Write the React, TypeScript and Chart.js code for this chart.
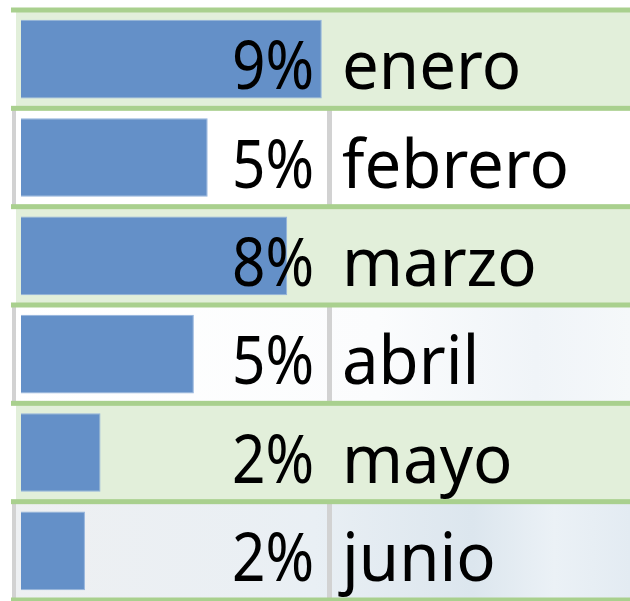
import React, { useEffect, useRef } from "react";
import { Chart, registerables } from "chart.js";

Chart.register(...registerables);

const months: string[] = ["enero", "febrero", "marzo", "abril", "mayo", "junio"];
const shares: number[] = [8.7, 5.4, 7.7, 5.0, 2.3, 1.85];
const axisMax = 17.5;

const FONT = '"Noto Sans", "Open Sans", sans-serif';

const tablePlugin = {
  id: "tableDecor",
  beforeDatasetsDraw(chart: any) {
    const ctx = chart.ctx as CanvasRenderingContext2D;
    const y = chart.scales.y;
    const W = chart.width;
    const step = y.getPixelForValue(1) - y.getPixelForValue(0);
    ctx.save();
    months.forEach((_, i) => {
      const top = y.getPixelForValue(i) - step / 2;
      if (i % 2 === 0) {
        ctx.fillStyle = "#e2efda";
        ctx.fillRect(16, top, W - 16, step);
      } else {
        if (i >= 3) {
          const g = ctx.createLinearGradient(0, 0, W, 0);
          if (i === 5) {
            g.addColorStop(0, "#eef0f2");
            g.addColorStop(0.5, "#e9eff4");
            g.addColorStop(0.75, "#dce6ee");
            g.addColorStop(0.88, "#ebf1f6");
            g.addColorStop(1, "#e3ebf2");
          } else {
            g.addColorStop(0, "#ffffff");
            g.addColorStop(0.6, "#fbfcfd");
            g.addColorStop(0.85, "#f0f4f8");
            g.addColorStop(1, "#f5f8fa");
          }
          ctx.fillStyle = g;
          ctx.fillRect(16, top, W - 16, step);
        }
        ctx.fillStyle = "#d2d2d2";
        ctx.fillRect(12, top, 4, step);
        ctx.fillRect(327, top, 5, step);
      }
    });
    ctx.restore();
  },
  afterDatasetsDraw(chart: any) {
    const ctx = chart.ctx as CanvasRenderingContext2D;
    const y = chart.scales.y;
    const W = chart.width;
    const step = y.getPixelForValue(1) - y.getPixelForValue(0);
    ctx.save();
    ctx.fillStyle = "#a9d08e";
    for (let i = 0; i <= months.length; i++) {
      const b = y.getPixelForValue(0) - step / 2 + i * step;
      ctx.fillRect(11, b - 2.5, W - 11, 5);
    }
    ctx.fillStyle = "#000000";
    ctx.textBaseline = "alphabetic";
    ctx.textAlign = "left";
    months.forEach((m, i) => {
      const cy = y.getPixelForValue(i);
      const base = cy + 30;
      const pct = Math.round(shares[i]) + "%";
      ctx.font = `68px ${FONT}`;
      const w = ctx.measureText(pct).width;
      ctx.save();
      ctx.translate(314, base);
      ctx.scale(0.86, 1);
      ctx.fillText(pct, -w, 0);
      ctx.restore();
      ctx.save();
      ctx.translate(342, base);
      ctx.scale(0.96, 1);
      ctx.fillText(m, 0, 0);
      ctx.restore();
    });
    ctx.restore();
  },
};

export default function App() {
  const ref = useRef<HTMLCanvasElement | null>(null);
  useEffect(() => {
    if (!ref.current) return;
    const chart = new Chart(ref.current, {
      type: "bar",
      data: {
        labels: months,
        datasets: [
          {
            data: shares,
            backgroundColor: "#6490c8",
            borderColor: "#93b3dc",
            borderWidth: 1,
            categoryPercentage: 1,
            barPercentage: 0.8,
          },
        ],
      },
      options: {
        indexAxis: "y",
        animation: false,
        responsive: false,
        maintainAspectRatio: false,
        layout: { padding: { left: 21, right: 4, top: 10, bottom: 1 } },
        plugins: {
          legend: { display: false },
          tooltip: { enabled: false },
        },
        scales: {
          x: { display: false, min: 0, max: axisMax },
          y: { display: false, grid: { display: false } },
        },
      },
      plugins: [tablePlugin],
    });
    if ((document as any).fonts && (document as any).fonts.load) {
      (document as any).fonts.load(`68px "Noto Sans"`).then(() => chart.draw()).catch(() => {});
    }
    return () => chart.destroy();
  }, []);
  return (
    <div style={{ position: "fixed", left: 0, top: 0, width: 630, height: 601, background: "#ffffff" }}>
      <canvas ref={ref} width={630} height={601} style={{ display: "block", width: 630, height: 601 }} />
    </div>
  );
}
